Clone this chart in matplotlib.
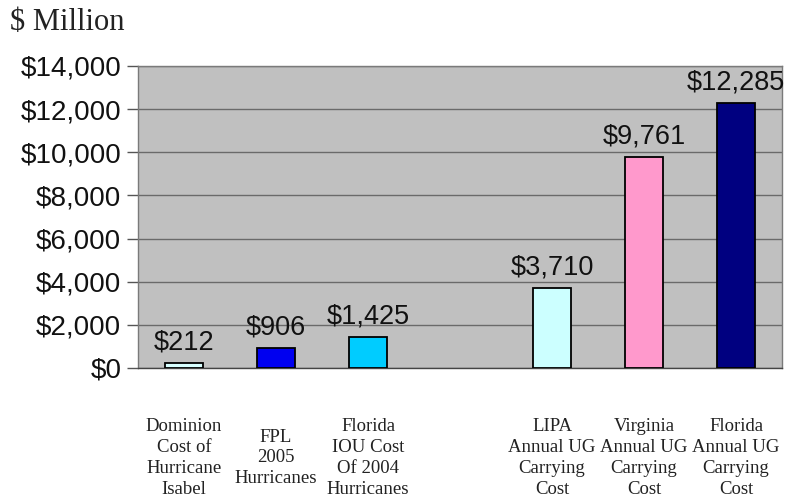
import matplotlib.pyplot as plt
import matplotlib.transforms as mtransforms
import numpy as np

# data (gap slot between hurricane costs and carrying costs)
categories = ["Dominion\nCost of\nHurricane\nIsabel",
              "FPL\n2005\nHurricanes",
              "Florida\nIOU Cost\nOf 2004\nHurricanes",
              "",
              "LIPA\nAnnual UG\nCarrying\nCost",
              "Virginia\nAnnual UG\nCarrying\nCost",
              "Florida\nAnnual UG\nCarrying\nCost"]
values = [212, 906, 1425, np.nan, 3710, 9761, 12285]
bar_colors = ["#D8FFFF", "#0000F0", "#00CCFF", "none", "#CCFFFF", "#FF99CC", "#000080"]
yticks = [0, 2000, 4000, 6000, 8000, 10000, 12000, 14000]

fig = plt.figure(figsize=(8.02, 5.00), dpi=100)
ax = fig.add_axes([0.1721, 0.264, 0.803, 0.604])
ax.set_facecolor("#C0C0C0")

x = np.arange(len(categories))
ax.bar(x, values, width=0.41, color=bar_colors, edgecolor="black", linewidth=1.3, zorder=3)

# value labels
for xi, v in zip(x, values):
    if np.isnan(v):
        continue
    ax.annotate(f"${v:,.0f}", (xi, v), xytext=(0, 10), textcoords="offset points",
                ha="center", va="baseline", fontsize=19.5, family="Liberation Sans",
                color="#111111")

ax.set_xlim(-0.5, len(categories) - 0.5)
ax.set_ylim(0, 14000)
ax.set_yticks(yticks)
ax.set_yticklabels([f"${t:,}" for t in yticks], fontsize=20, family="Liberation Sans",
                   color="#111111")
ax.tick_params(axis="y", length=8, width=1, color="#555555", pad=4)
ax.set_xticks([])
ax.grid(axis="y", color="#6a6a6a", linewidth=1, zorder=1)
for side in ax.spines.values():
    side.set_color("#7a7a7a")
    side.set_linewidth(1)
ax.spines["bottom"].set_color("#444444")

# category labels below the plot
trans = mtransforms.blended_transform_factory(ax.transData, fig.transFigure)
for xi, lab in zip(x, categories):
    if lab:
        ax.text(xi, 1 - 458 / 500, lab, transform=trans, ha="center", va="center",
                fontsize=13.5, family="Liberation Serif", linespacing=1.3, color="#222222")

fig.text(10 / 802, 1 - 22 / 500, "$ Million", fontsize=22, family="Liberation Serif",
         va="center", ha="left", color="#222222")

fig.savefig("out.png", dpi=100)
